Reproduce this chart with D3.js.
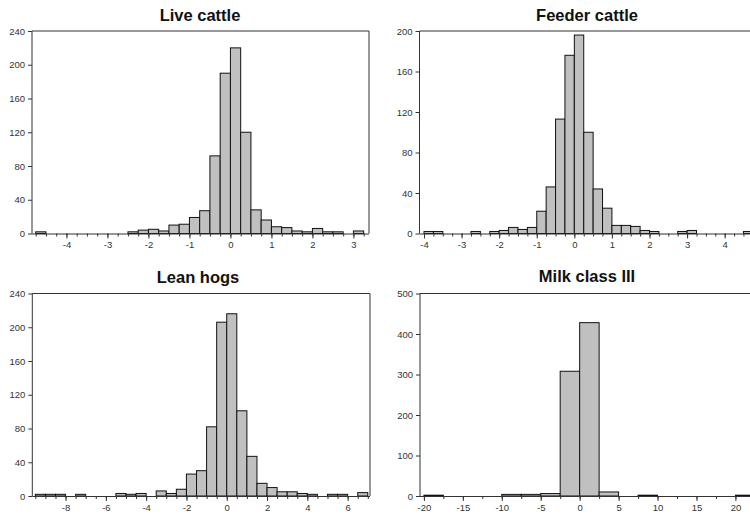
<!DOCTYPE html>
<html><head><meta charset="utf-8">
<script src="https://cdn.jsdelivr.net/npm/d3@7"></script>
<style>body{margin:0;background:#fff}svg{display:block}</style>
</head><body>
<svg id="c" width="750" height="517"></svg>
<script>
// ---- data ----
const titles = ["Live cattle", "Feeder cattle", "Lean hogs", "Milk class III"];

const liveEdges = [-4.75,-2.5,-2.25,-2,-1.75,-1.5,-1.25,-1,-0.75,-0.5,-0.25,0,0.25,0.5,0.75,1,1.25,1.5,1.75,2,2.25,2.5,3];
const liveCounts = [2,2,4,5,3,10,11,19,27,92,190,220,120,28,16,8,7,3,2,6,2,2,3];
const liveBinWidth = 0.25;
const liveXTicks = [-4,-3,-2,-1,0,1,2,3];
const liveYTicks = [0,40,80,120,160,200,240];

const feederEdges = [-4,-3.75,-2.75,-2.25,-2,-1.75,-1.5,-1.25,-1,-0.75,-0.5,-0.25,0,0.25,0.5,0.75,1,1.25,1.5,1.75,2,2.75,3,4.5];
const feederCounts = [2,2,2,2,3,6,4,6,22,46,113,176,196,100,44,25,8,8,7,3,2,2,3,2];
const feederBinWidth = 0.25;
const feederXTicks = [-4,-3,-2,-1,0,1,2,3,4];
const feederYTicks = [0,40,80,120,160,200];

const hogsEdges = [-9.5,-9,-8.5,-7.5,-5.5,-5,-4.5,-3.5,-3,-2.5,-2,-1.5,-1,-0.5,0,0.5,1,1.5,2,2.5,3,3.5,4,5,5.5,6.5];
const hogsCounts = [2,2,2,2,3,2,3,6,3,8,26,30,82,206,216,101,47,15,10,5,5,3,2,2,2,4];
const hogsBinWidth = 0.5;
const hogsXTicks = [-8,-6,-4,-2,0,2,4,6];
const hogsYTicks = [0,40,80,120,160,200,240];

const milkEdges = [-20,-10,-7.5,-5,-2.5,0,2.5,7.5,20];
const milkCounts = [2,4,4,6,308,428,10,2,2];
const milkBinWidth = 2.5;
const milkXTicks = [-20,-15,-10,-5,0,5,10,15,20];
const milkYTicks = [0,100,200,300,400,500];

// ---- layout ----
const panels = [
  {title: titles[0], edges: liveEdges, counts: liveCounts, bw: liveBinWidth, xt: liveXTicks, yt: liveYTicks,
   xd: [-4.84, 3.38], px: [32, 369], py: [233.5, 31], tx: 200, ty: 21},
  {title: titles[1], edges: feederEdges, counts: feederCounts, bw: feederBinWidth, xt: feederXTicks, yt: feederYTicks,
   xd: [-4.12, 4.9], px: [419.5, 758.5], py: [233.5, 31], tx: 587, ty: 21},
  {title: titles[2], edges: hogsEdges, counts: hogsCounts, bw: hogsBinWidth, xt: hogsXTicks, yt: hogsYTicks,
   xd: [-9.65, 7.11], px: [32.3, 370], py: [496, 293.5], tx: 198, ty: 283},
  {title: titles[3], edges: milkEdges, counts: milkCounts, bw: milkBinWidth, xt: milkXTicks, yt: milkYTicks,
   xd: [-20.5, 22.9], px: [420, 758], py: [496, 293.5], tx: 587, ty: 282}
];

const svg = d3.select("#c");
const axisCol = "#333";
const fmt = d => String(d);

panels.forEach(p => {
  const x = d3.scaleLinear().domain(p.xd).range(p.px);
  const y = d3.scaleLinear().domain([0, p.yt[p.yt.length-1]]).range(p.py);
  const g = svg.append("g");

  // bars
  const data = p.edges.map((e, i) => ({x0: e, x1: e + p.bw, c: p.counts[i]}));
  g.selectAll("rect").data(data).join("rect")
    .attr("x", d => x(d.x0))
    .attr("y", d => y(d.c))
    .attr("width", d => x(d.x1) - x(d.x0))
    .attr("height", d => y(0) - y(d.c))
    .attr("fill", "#c0c0c0")
    .attr("stroke", "#111")
    .attr("stroke-width", 1);

  // frame: left, top, right
  const [l, r] = p.px, [b, t] = p.py;
  g.append("path")
    .attr("d", `M${l},${b}V${t}H${r}V${b}`)
    .attr("fill", "none").attr("stroke", axisCol).attr("stroke-width", 1);

  // x axis (minor ticks every bin width, major labelled)
  const minor = d3.range(Math.ceil(p.xd[0] / p.bw), Math.floor(p.xd[1] / p.bw) + 1).map(k => k * p.bw);
  const xAxis = d3.axisBottom(x).tickValues(p.xt).tickSize(5).tickSizeOuter(0).tickFormat(fmt);
  const xMinor = d3.axisBottom(x).tickValues(minor).tickSize(3).tickSizeOuter(0).tickFormat("");
  const gxm = g.append("g").attr("transform", `translate(0,${b})`).call(xMinor);
  const gx = g.append("g").attr("transform", `translate(0,${b})`).call(xAxis);
  gxm.select(".domain").remove();
  gx.select(".domain").attr("d", `M${l},0.5H${r}`);
  [gx, gxm].forEach(a => {
    a.selectAll("line").attr("stroke", axisCol);
    a.selectAll(".domain").attr("stroke", axisCol);
  });
  gx.selectAll("text").attr("fill", axisCol).attr("font-size", "9.5px")
    .attr("font-family", "Liberation Sans, Arial, sans-serif").attr("y", 8);

  // y axis
  const yAxis = d3.axisLeft(y).tickValues(p.yt).tickSize(4).tickSizeOuter(0).tickPadding(3).tickFormat(fmt);
  const gy = g.append("g").attr("transform", `translate(${l},0)`).call(yAxis);
  gy.select(".domain").remove();
  gy.selectAll("line").attr("stroke", axisCol);
  gy.selectAll("text").attr("fill", axisCol).attr("font-size", "9.5px")
    .attr("font-family", "Liberation Sans, Arial, sans-serif");

  // title
  g.append("text").attr("x", p.tx).attr("y", p.ty).attr("text-anchor", "middle")
    .attr("font-family", "Liberation Sans, Arial, sans-serif").attr("font-weight", "bold")
    .attr("font-size", "16.5px").attr("fill", "#111").text(p.title);
});
</script>
</body></html>
